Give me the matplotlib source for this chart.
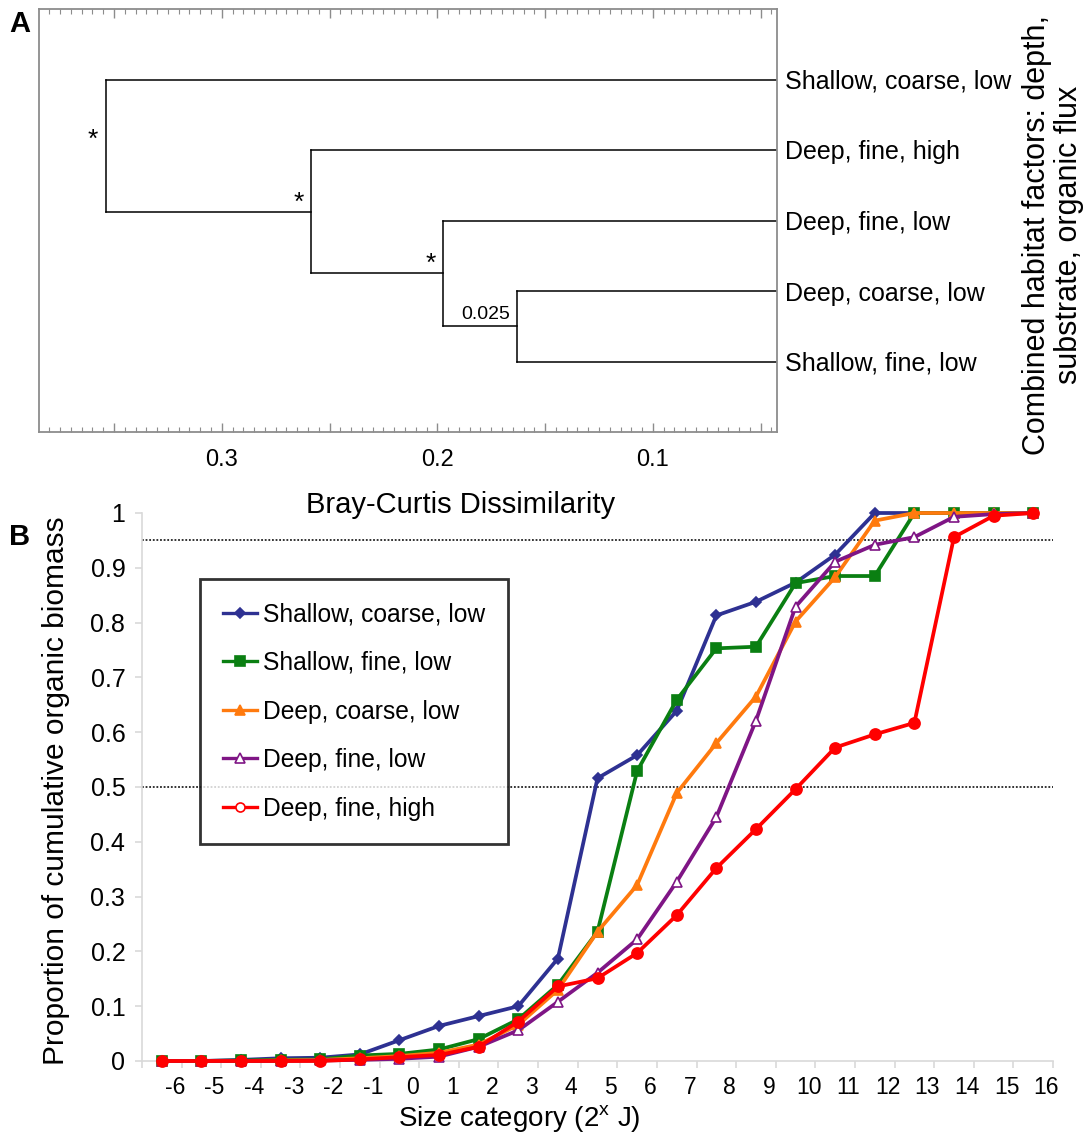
import numpy as np
import matplotlib
matplotlib.use("Agg")
import matplotlib.pyplot as plt
from matplotlib.lines import Line2D
from matplotlib.ticker import FixedLocator, MultipleLocator, FuncFormatter

plt.rcParams['font.family'] = ['Liberation Sans', 'DejaVu Sans']
plt.rcParams['mathtext.fontset'] = 'custom'
plt.rcParams['mathtext.rm'] = 'Liberation Sans'

# ---- panel A: dendrogram (Bray-Curtis) ----
leaves = ['Shallow, coarse, low', 'Deep, fine, high', 'Deep, fine, low',
          'Deep, coarse, low', 'Shallow, fine, low']
# merges: children (leaf index or node name) and dissimilarity at which they join
merges = [(3, 4), (2, 'n0'), (1, 'n1'), (0, 'n2')]
merge_height = [0.1631, 0.1974, 0.2587, 0.3536]
merge_label = ['0.025', '*', '*', '*']

# ---- panel B: cumulative organic biomass ----
size_cat = list(range(-6, 17))
series_names = ['Shallow, coarse, low', 'Shallow, fine, low', 'Deep, coarse, low',
                'Deep, fine, low', 'Deep, fine, high']
shallow_coarse_low = [0, 0, 0.002, 0.005, 0.006, 0.012, 0.038, 0.064, 0.082, 0.100, 0.187,
                      0.516, 0.558, 0.639, 0.813, 0.838, 0.873, 0.924, 1, 1, 1, 1, 1]
shallow_fine_low = [0, 0, 0.001, 0.002, 0.003, 0.010, 0.013, 0.021, 0.040, 0.076, 0.139,
                    0.236, 0.529, 0.659, 0.753, 0.756, 0.872, 0.885, 0.885, 1, 1, 1, 1]
deep_coarse_low = [0, 0, 0, 0.001, 0.002, 0.005, 0.009, 0.015, 0.030, 0.066, 0.130,
                   0.236, 0.321, 0.489, 0.580, 0.665, 0.802, 0.883, 0.986, 1, 1, 1, 1]
deep_fine_low = [0, 0, 0, 0, 0.001, 0.002, 0.004, 0.008, 0.026, 0.056, 0.108,
                 0.161, 0.222, 0.327, 0.445, 0.621, 0.829, 0.911, 0.942, 0.956, 0.993, 0.998, 1]
deep_fine_high = [0, 0, 0, 0, 0, 0.003, 0.007, 0.011, 0.026, 0.072, 0.136,
                  0.151, 0.197, 0.266, 0.352, 0.423, 0.496, 0.572, 0.596, 0.617, 0.956, 0.995, 1]
ref_levels = [0.95, 0.5]

fig = plt.figure(figsize=(10.9, 11.37), dpi=100)
W, H = 1090., 1137.

# ================= panel A =================
ax1 = fig.add_axes([39/W, 1-432/H, (777-39)/W, (432-9)/H])
ypos = {i: i+1 for i in range(len(leaves))}
xpos = {i: 0.0 for i in range(len(leaves))}
for k, (a, b) in enumerate(merges):
    h = merge_height[k]
    ya, yb = ypos[a], ypos[b]
    ax1.plot([h, h], [ya, yb], color='black', lw=1.1)
    ax1.plot([xpos[a], h], [ya, ya], color='black', lw=1.1)
    ax1.plot([xpos[b], h], [yb, yb], color='black', lw=1.1)
    name = 'n%d' % k
    ypos[name] = (ya + yb) / 2
    xpos[name] = h

for k in range(len(merges)):
    name = 'n%d' % k
    if k == len(merges) - 1:
        ax1.annotate(merge_label[k], (xpos[name], ypos[name]), xytext=(-6, 4),
                     textcoords='offset points', ha='right', va='center', fontsize=19)
    elif merge_label[k] == '*':
        ax1.annotate(merge_label[k], (xpos[name], ypos[name]), xytext=(-5, -2),
                     textcoords='offset points', ha='right', va='bottom', fontsize=19)
    else:
        ax1.annotate(merge_label[k], (xpos[name], ypos[name]), xytext=(-5, 2),
                     textcoords='offset points', ha='right', va='bottom', fontsize=14)

ax1.set_xlim(0.3848, 0.0424)
ax1.set_ylim(6, 0)
ax1.xaxis.set_major_locator(FixedLocator(np.arange(0.05, 0.40, 0.05)))
ax1.xaxis.set_minor_locator(MultipleLocator(0.005))
ax1.xaxis.set_major_formatter(FuncFormatter(
    lambda v, p: ('%.1f' % v) if abs(v*10 - round(v*10)) < 1e-6 else ''))
ax1.tick_params(axis='x', which='both', direction='in', top=True, bottom=True,
                color='#8c8c8c', labelsize=17, pad=12)
ax1.tick_params(axis='x', which='major', length=6.5, width=1)
ax1.tick_params(axis='x', which='minor', length=3.5, width=0.8)
ax1.yaxis.tick_right()
ax1.set_yticks([ypos[i] for i in range(len(leaves))])
ax1.set_yticklabels(leaves)
ax1.tick_params(axis='y', length=0, labelsize=18, pad=6)
for s in ax1.spines.values():
    s.set_color('#8c8c8c')
    s.set_linewidth(1.3)

fig.text(1053/W, 1-235/H, 'Combined habitat factors: depth,\nsubstrate, organic flux',
         rotation=90, ha='center', va='center', multialignment='center',
         fontsize=22, linespacing=1.05)
fig.text(461/W, 1-505/H, 'Bray-Curtis Dissimilarity', ha='center', va='center', fontsize=21)
fig.text(20/W, 1-24/H, 'A', ha='center', va='center', fontsize=21, fontweight='bold')
fig.text(20/W, 1-537/H, 'B', ha='center', va='center', fontsize=21, fontweight='bold')

# ================= panel B =================
ax2 = fig.add_axes([142/W, 1-1061/H, (1053-142)/W, 548/H])
x = np.arange(len(size_cat))
styles = [
    (shallow_coarse_low, '#2e3192', 'D', 5.5, None),
    (shallow_fine_low, '#0a7f12', 's', 7.5, None),
    (deep_coarse_low, '#ff7a0e', '^', 7.5, None),
    (deep_fine_low, '#7f1585', '^', 6.5, 'white'),
    (deep_fine_high, '#ff0000', 'o', 8, None),
]
handles = []
for (vals, col, mk, ms, mfc), name in zip(styles, series_names):
    ax2.plot(x, vals, color=col, lw=2.7, marker=mk, ms=ms,
             mfc=mfc if mfc else col, mec=col, mew=1.2, clip_on=False, zorder=3)
    handles.append(Line2D([], [], color=col, lw=2.4, marker=mk,
                          ms=ms if mk != 'o' else 6.5,
                          mfc='white' if (mfc or mk == 'o') else col, mec=col, mew=1.2))

for lv in ref_levels:
    ax2.axhline(lv, color='#222222', lw=1.3, ls=(0, (1, 1)), zorder=1)

ax2.set_xlim(-0.5, len(size_cat) - 0.5)
ax2.set_ylim(0, 1)
ax2.set_yticks(np.arange(0, 1.01, 0.1))
ax2.yaxis.set_major_formatter(FuncFormatter(lambda v, p: '%g' % round(v, 1)))
ax2.set_xticks(np.arange(-0.5, len(size_cat), 1))
ax2.set_xticklabels([])
ax2.set_xticks(x + 0.33, minor=True)
ax2.set_xticklabels([str(c) for c in size_cat], minor=True)
ax2.tick_params(axis='x', which='major', length=5, color='#d9d9d9', width=1.2)
ax2.tick_params(axis='x', which='minor', length=0, labelsize=16.5, pad=11)
ax2.tick_params(axis='y', length=5, color='#d9d9d9', width=1.2, labelsize=18, pad=7)
for side in ['top', 'right']:
    ax2.spines[side].set_visible(False)
for side in ['left', 'bottom']:
    ax2.spines[side].set_color('#d9d9d9')
    ax2.spines[side].set_linewidth(1.2)

leg = ax2.legend(handles, series_names, loc='upper left', bbox_to_anchor=(0.0637, 0.8796),
                 borderaxespad=0, frameon=True, fancybox=False, fontsize=17.7,
                 handlelength=1.35, handletextpad=0.25, labelspacing=1.0,
                 borderpad=0.95)
leg.get_frame().set_edgecolor('black')
leg.get_frame().set_linewidth(2)
leg.set_zorder(5)

fig.text(56/W, 1-791/H, 'Proportion of cumulative organic biomass', rotation=90,
         ha='center', va='center', fontsize=21.5)
fig.text(519/W, 1-1119/H, r'Size category (2$^{\mathrm{x}}$ J)', ha='center', va='center',
         fontsize=20)

plt.savefig('out.png', dpi=100)
